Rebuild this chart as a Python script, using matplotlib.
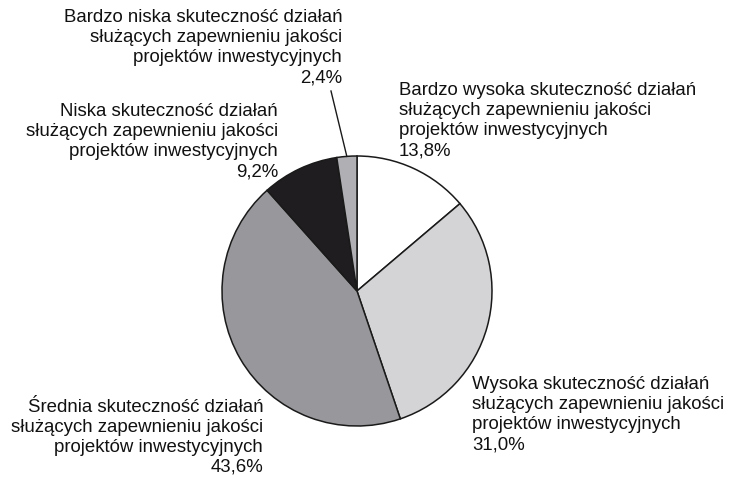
import numpy as np
import matplotlib
matplotlib.use("Agg")
import matplotlib.pyplot as plt

W, H = 732, 478

categories = [
    "Bardzo wysoka skuteczność działań\nsłużących zapewnieniu jakości\nprojektów inwestycyjnych",
    "Wysoka skuteczność działań\nsłużących zapewnieniu jakości\nprojektów inwestycyjnych",
    "Średnia skuteczność działań\nsłużących zapewnieniu jakości\nprojektów inwestycyjnych",
    "Niska skuteczność działań\nsłużących zapewnieniu jakości\nprojektów inwestycyjnych",
    "Bardzo niska skuteczność działań\nsłużących zapewnieniu jakości\nprojektów inwestycyjnych",
]
values = [13.8, 31.0, 43.6, 9.2, 2.4]
value_labels = ["13,8%", "31,0%", "43,6%", "9,2%", "2,4%"]
colors = ["#ffffff", "#d4d4d6", "#98989c", "#1f1d1f", "#b0b0b4"]

# label anchors in pixel coords (x, last-line baseline y), alignment
label_pos = [(399, 155, "left"), (472, 449, "left"), (263, 472, "right"),
             (278, 176, "right"), (342, 82, "right")]

plt.rcParams['font.family'] = ['Liberation Sans', 'DejaVu Sans']
fig = plt.figure(figsize=(W / 100, H / 100), dpi=100)
ax = fig.add_axes([0, 0, 1, 1])

cx, cy, r = 357, H - 291, 135
wedges, _ = ax.pie(values, colors=colors, startangle=90, counterclock=False,
                   center=(cx, cy), radius=r, frame=True,
                   wedgeprops=dict(edgecolor="#1a1a1a", linewidth=1.1))
ax.set_xlim(0, W)
ax.set_ylim(0, H)
ax.set_aspect('equal')
ax.axis('off')

for cat, vl, (x, y, ha) in zip(categories, value_labels, label_pos):
    ax.text(x, H - y, cat + "\n" + vl, ha=ha, va='baseline', fontsize=13.4,
            linespacing=1.22, color="#111111", multialignment=ha)

# leader line for the smallest slice
w = wedges[4]
mid = np.deg2rad((w.theta1 + w.theta2) / 2)
ex, ey = cx + r * np.cos(mid), cy + r * np.sin(mid)
ax.plot([331, ex], [H - 91, ey], color="#1a1a1a", linewidth=1.0)

fig.savefig("out.png", dpi=100)
